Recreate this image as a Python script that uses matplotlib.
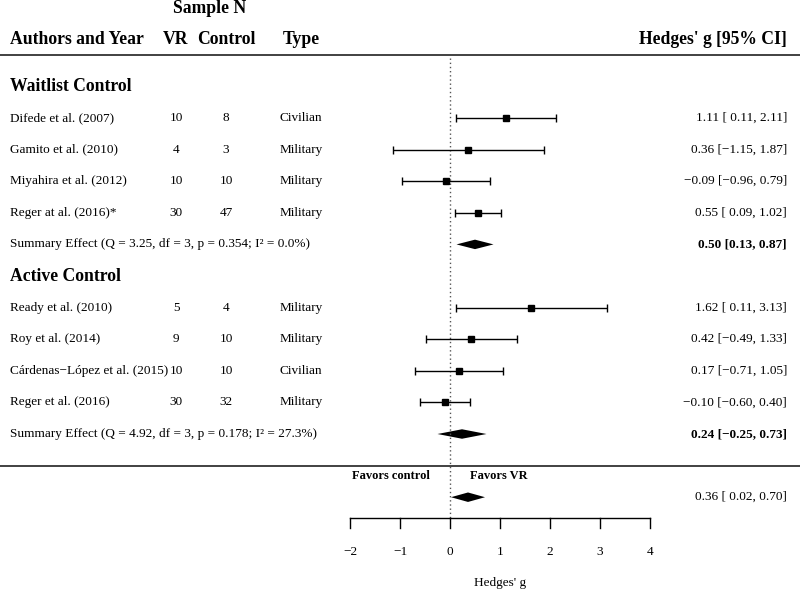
import matplotlib.pyplot as plt
from matplotlib.patches import Polygon

plt.rcParams['font.family'] = ['Liberation Serif', 'DejaVu Serif']
plt.rcParams['axes.unicode_minus'] = True

# Waitlist control studies
waitlist_authors = ["Difede et al. (2007)", "Gamito et al. (2010)",
                    "Miyahira et al. (2012)", "Reger at al. (2016)*"]
waitlist_vr = [10, 4, 10, 30]
waitlist_ctrl = [8, 3, 10, 47]
waitlist_type = ["Civilian", "Military", "Military", "Military"]
waitlist_g = [1.11, 0.36, -0.09, 0.55]
waitlist_lo = [0.11, -1.15, -0.96, 0.09]
waitlist_hi = [2.11, 1.87, 0.79, 1.02]
waitlist_summary = [0.50, 0.13, 0.87]
waitlist_stats = "Q = 3.25, df = 3, p = 0.354; I\u00b2 = 0.0%"

# Active control studies
active_authors = ["Ready et al. (2010)", "Roy et al. (2014)",
                  "C\u00e1rdenas\u2212L\u00f3pez et al. (2015)", "Reger et al. (2016)"]
active_vr = [5, 9, 10, 30]
active_ctrl = [4, 10, 10, 32]
active_type = ["Military", "Military", "Civilian", "Military"]
active_g = [1.62, 0.42, 0.17, -0.10]
active_lo = [0.11, -0.49, -0.71, -0.60]
active_hi = [3.13, 1.33, 1.05, 0.40]
active_summary = [0.24, -0.25, 0.73]
active_stats = "Q = 4.92, df = 3, p = 0.178; I\u00b2 = 27.3%"

overall = [0.36, 0.02, 0.70]
xticks = [-2, -1, 0, 1, 2, 3, 4]

# column positions in effect-size units
X_AUTH, X_VR, X_CTRL, X_TYPE, X_CI = -8.8, -5.48, -4.48, -3.4, 6.74
FS = 9.5
HFS = 12.7


def fmt(v):
    return f"{v:.2f}".replace("-", "\u2212")


def ci_text(g, lo, hi, pad=True):
    lo_s = fmt(lo)
    if pad and lo >= 0:
        lo_s = " " + lo_s
    return f"{fmt(g)} [{lo_s}, {fmt(hi)}]"


def diamond(ax, est, lo, hi, y, h=0.15):
    ax.add_patch(Polygon([(lo, y), (est, y - h), (hi, y), (est, y + h)],
                         closed=True, color="black", lw=0))


fig = plt.figure(figsize=(8, 5.91), dpi=100)
ax = fig.add_axes([0, 0, 1, 1])
ax.set_xlim(-9, 7)
ax.set_ylim(14.968, -3.734)
ax.axis("off")

# headers
ax.text(X_CTRL - 0.32, -3.45, "Sample N", ha="center", va="center", fontsize=HFS, weight="bold")
ax.text(X_AUTH, -2.47, "Authors and Year", ha="left", va="center", fontsize=HFS, weight="bold")
ax.text(X_VR, -2.47, "VR", ha="center", va="center", fontsize=HFS, weight="bold")
ax.text(X_CTRL, -2.47, "Control", ha="center", va="center", fontsize=HFS, weight="bold")
ax.text(X_TYPE + 0.06, -2.47, "Type", ha="left", va="center", fontsize=HFS, weight="bold")
ax.text(X_CI, -2.47, "Hedges' g [95% CI]", ha="right", va="center", fontsize=HFS, weight="bold")
ax.axhline(-2.0, color="#333333", lw=1.3)
ax.axhline(11.0, color="#333333", lw=1.3)

ax.plot([0, 0], [-1.9, 12.66], color="#555555", lw=1, ls=(0, (1, 2)))

groups = [
    ("Waitlist Control", 0, waitlist_authors, waitlist_vr, waitlist_ctrl, waitlist_type,
     waitlist_g, waitlist_lo, waitlist_hi, waitlist_summary, waitlist_stats),
    ("Active Control", 6, active_authors, active_vr, active_ctrl, active_type,
     active_g, active_lo, active_hi, active_summary, active_stats),
]

for title, start, auth, vr, ctrl, typ, g, lo, hi, summ, stats in groups:
    ax.text(X_AUTH, start - 1, title, ha="left", va="center", fontsize=12.7, weight="bold")
    rows = [start + i for i in range(len(auth))]
    for i, y in enumerate(rows):
        ax.text(X_AUTH, y, auth[i], ha="left", va="center", fontsize=FS)
        ax.text(X_VR, y, str(vr[i]), ha="center", va="center", fontsize=FS)
        ax.text(X_CTRL, y, str(ctrl[i]), ha="center", va="center", fontsize=FS)
        ax.text(X_TYPE, y, typ[i], ha="left", va="center", fontsize=FS)
        ax.text(X_CI, y, ci_text(g[i], lo[i], hi[i]), ha="right", va="center", fontsize=FS)
    xerr = [[g[i] - lo[i] for i in range(len(g))], [hi[i] - g[i] for i in range(len(g))]]
    ax.errorbar(g, rows, xerr=xerr, fmt="s", color="black", ms=4.6, lw=1,
                capsize=2.8, capthick=1)
    ys = start + len(auth)
    ax.text(X_AUTH, ys, f"Summary Effect ({stats})", ha="left", va="center", fontsize=FS)
    diamond(ax, summ[0], summ[1], summ[2], ys)
    ax.text(X_CI, ys, ci_text(*summ, pad=False), ha="right", va="center",
            fontsize=FS, weight="bold")

# overall
ax.text(-0.4, 11.34, "Favors control", ha="right", va="center", fontsize=9, weight="bold")
ax.text(0.4, 11.34, "Favors VR", ha="left", va="center", fontsize=9, weight="bold")
diamond(ax, overall[0], overall[1], overall[2], 12.0)
ax.text(X_CI, 12.0, ci_text(*overall), ha="right", va="center", fontsize=FS)

# x axis
ax.plot([xticks[0], xticks[-1]], [12.66, 12.66], color="black", lw=1)
for t in xticks:
    ax.plot([t, t], [12.66, 12.98], color="black", lw=1)
    ax.text(t, 13.73, fmt(t).replace(".00", ""), ha="center", va="center", fontsize=FS)
ax.text(1, 14.72, "Hedges' g", ha="center", va="center", fontsize=FS)

fig.savefig("out.png", dpi=100)
